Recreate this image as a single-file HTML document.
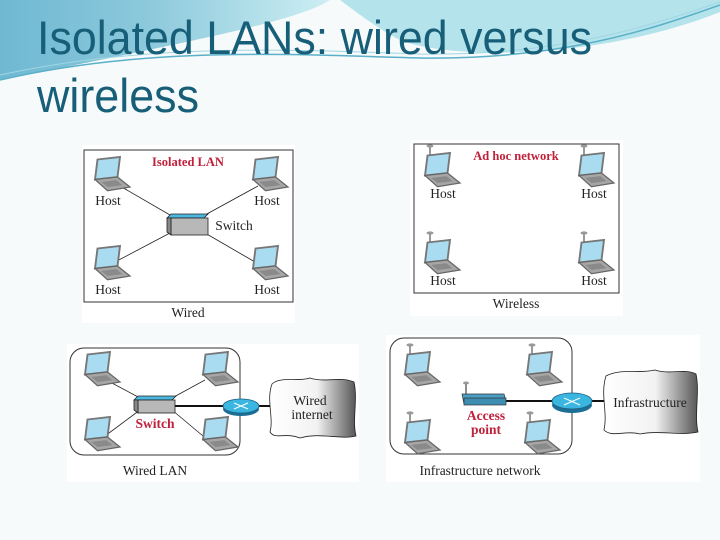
<!DOCTYPE html>
<html><head><style>
html,body{margin:0;padding:0;}
body{width:720px;height:540px;overflow:hidden;background:#f7fafb;}
svg{display:block;}
</style></head><body>
<svg width="720" height="540" viewBox="0 0 720 540" xmlns="http://www.w3.org/2000/svg">
<defs>
<linearGradient id="sky" x1="0" y1="0" x2="1" y2="0">
<stop offset="0" stop-color="#6fb8d2"/><stop offset="0.45" stop-color="#8cc9dc"/><stop offset="1" stop-color="#cdeef3"/>
</linearGradient>
<linearGradient id="cloudg" x1="0" y1="0" x2="1" y2="0">
<stop offset="0" stop-color="#ffffff"/><stop offset="0.55" stop-color="#f2f2f2"/><stop offset="1" stop-color="#555"/>
</linearGradient>
<g id="lap0">
<path d="M6,2 L24,0 L22,16 L4,18 Z" fill="#a9dcf0" stroke="#777" stroke-width="1.5"/>
<path d="M4,18 L22,16 L32,24 L14,27 Z" fill="#a6a6a6" stroke="#666" stroke-width="1"/>
<path d="M9,20 L21,18.5 L26,22.5 L14,24 Z" fill="#8a8a8a"/>
</g>
<g id="lap"><g transform="scale(1.25)"><use href="#lap0"/></g></g>
<g id="wlap">
<line x1="10" y1="-7" x2="10" y2="2" stroke="#555" stroke-width="1.2"/>
<ellipse cx="10" cy="-7" rx="3.5" ry="1.6" fill="#999"/>
<use href="#lap"/>
</g>
</defs>
<rect width="720" height="540" fill="#f7fafb"/>
<path d="M0,0 L330,0 C300,20 200,40 0,80 Z" fill="url(#sky)"/>
<path d="M340,0 L720,0 L720,12 C600,60 450,60 400,40 C380,30 360,15 340,0 Z" fill="#b5e3ec"/>
<path d="M0,80 C150,45 300,55 420,58 C560,60 650,30 720,5" fill="none" stroke="#5ab0c8" stroke-width="1.5"/>
<path d="M0,75 C150,42 300,50 420,54 C560,56 650,26 720,2" fill="none" stroke="#9fd6e3" stroke-width="1"/>
<text x="37" y="54" font-family="Liberation Sans Narrow, Liberation Sans, sans-serif" font-size="47" fill="#175f78" textLength="555" lengthAdjust="spacingAndGlyphs">Isolated LANs: wired versus</text>
<text x="37" y="112" font-family="Liberation Sans Narrow, Liberation Sans, sans-serif" font-size="47" fill="#175f78" textLength="162" lengthAdjust="spacingAndGlyphs">wireless</text>

<g font-family="Liberation Serif, serif" font-size="13.5" fill="#222" text-anchor="middle">
<rect x="82" y="145" width="213" height="178" fill="#fff"/>
<rect x="84" y="150" width="209" height="152" fill="#fff" stroke="#333" stroke-width="1"/>
<text x="188" y="166" fill="#c0203a" font-weight="bold" font-size="12.5">Isolated LAN</text>
<g stroke="#222" stroke-width="0.8">
<line x1="120" y1="186" x2="170" y2="215"/><line x1="258" y1="186" x2="205" y2="215"/>
<line x1="115" y1="262" x2="170" y2="233"/><line x1="255" y1="262" x2="205" y2="233"/>
</g>
<use href="#lap" x="90" y="157"/><use href="#lap" x="248" y="157"/>
<use href="#lap" x="90" y="246"/><use href="#lap" x="248" y="246"/>
<path d="M167,218 L171,214 L208,214 L204,218 Z" fill="#4cb8e0" stroke="#222" stroke-width="0.8"/>
<rect x="171" y="218" width="37" height="17" fill="#b8b8b8" stroke="#222" stroke-width="0.8"/>
<path d="M167,218 L171,218 L171,235 L167,232 Z" fill="#888" stroke="#222" stroke-width="0.8"/>
<text x="108" y="205">Host</text><text x="267" y="205">Host</text>
<text x="108" y="294">Host</text><text x="267" y="294">Host</text>
<text x="234" y="230">Switch</text>
<text x="188" y="317">Wired</text>

<rect x="410" y="140" width="213" height="176" fill="#fff"/>
<rect x="414" y="144" width="205" height="149" fill="#fff" stroke="#333" stroke-width="1"/>
<text x="516" y="160" fill="#c0203a" font-weight="bold" font-size="12.5">Ad hoc network</text>
<use href="#wlap" x="420" y="153"/><use href="#wlap" x="574" y="153"/>
<use href="#wlap" x="420" y="240"/><use href="#wlap" x="574" y="240"/>
<text x="443" y="198">Host</text><text x="594" y="198">Host</text>
<text x="443" y="285">Host</text><text x="594" y="285">Host</text>
<text x="516" y="308">Wireless</text>

<rect x="67" y="344" width="292" height="138" fill="#fff"/>
<rect x="70" y="348" width="170" height="107" rx="14" fill="#fff" stroke="#333" stroke-width="1"/>
<g stroke="#222" stroke-width="0.8">
<line x1="110" y1="382" x2="140" y2="398"/><line x1="205" y1="380" x2="172" y2="398"/>
<line x1="105" y1="436" x2="140" y2="410"/><line x1="203" y1="436" x2="172" y2="410"/>
</g>
<line x1="175" y1="406" x2="225" y2="406" stroke="#111" stroke-width="2"/>
<line x1="258" y1="406" x2="270" y2="406" stroke="#111" stroke-width="2"/>
<use href="#lap" x="80" y="352"/><use href="#lap" x="198" y="352"/>
<use href="#lap" x="80" y="417"/><use href="#lap" x="198" y="417"/>
<path d="M134,400 L138,396 L176,396 L172,400 Z" fill="#4cb8e0" stroke="#222" stroke-width="0.8"/>
<rect x="138" y="400" width="37" height="13" fill="#b8b8b8" stroke="#222" stroke-width="0.8"/>
<path d="M134,400 L138,400 L138,413 L134,410 Z" fill="#888" stroke="#222" stroke-width="0.8"/>
<text x="155" y="428" fill="#c0203a" font-weight="bold">Switch</text>
<ellipse cx="241" cy="409" rx="18" ry="7" fill="#1d6f95"/>
<ellipse cx="241" cy="406" rx="18" ry="7" fill="#3ab6e0" stroke="#1d5f80" stroke-width="0.8"/>
<path d="M234,403 L248,409 M234,409 L248,403" stroke="#fff" stroke-width="1"/>
<path d="M272,384 C280,376 300,382 310,378 C325,383 340,376 354,382 C358,400 352,420 356,436 C340,440 320,432 300,438 C285,432 275,440 270,432 C274,418 266,400 272,384 Z" fill="url(#cloudg)" stroke="#222" stroke-width="0.8"/>
<text x="310" y="405">Wired</text><text x="312" y="419">internet</text>
<text x="155" y="475">Wired LAN</text>

<rect x="386" y="335" width="314" height="147" fill="#fff"/>
<rect x="390" y="338" width="182" height="116" rx="14" fill="#fff" stroke="#333" stroke-width="1"/>
<line x1="505" y1="401" x2="552" y2="401" stroke="#111" stroke-width="2"/>
<line x1="592" y1="401" x2="604" y2="401" stroke="#111" stroke-width="2"/>
<use href="#wlap" x="400" y="352"/><use href="#wlap" x="522" y="352"/>
<use href="#wlap" x="400" y="420"/><use href="#wlap" x="520" y="420"/>
<line x1="466" y1="382" x2="466" y2="395" stroke="#444" stroke-width="1.2"/>
<ellipse cx="466" cy="383" rx="3" ry="1.5" fill="#999"/>
<path d="M462,394 L504,394 L506,401 L464,404 Z" fill="#4a9fc4" stroke="#333" stroke-width="0.7"/>
<rect x="464" y="398" width="42" height="7" fill="#3d8db3" stroke="#333" stroke-width="0.7"/>
<text x="486" y="420" fill="#c0203a" font-weight="bold">Access</text>
<text x="486" y="434" fill="#c0203a" font-weight="bold">point</text>
<ellipse cx="572" cy="405" rx="20" ry="8" fill="#1d6f95"/>
<ellipse cx="572" cy="401" rx="20" ry="8" fill="#3ab6e0" stroke="#1d5f80" stroke-width="0.8"/>
<path d="M564,398 L580,405 M564,405 L580,398" stroke="#fff" stroke-width="1"/>
<path d="M606,376 C620,368 640,374 655,370 C670,375 685,368 696,374 C700,392 694,415 698,432 C680,436 660,430 640,434 C625,430 612,438 604,430 C608,412 600,395 606,376 Z" fill="url(#cloudg)" stroke="#222" stroke-width="0.8"/>
<text x="650" y="407">Infrastructure</text>
<text x="480" y="475">Infrastructure network</text>
</g>
</svg>
</body></html>
